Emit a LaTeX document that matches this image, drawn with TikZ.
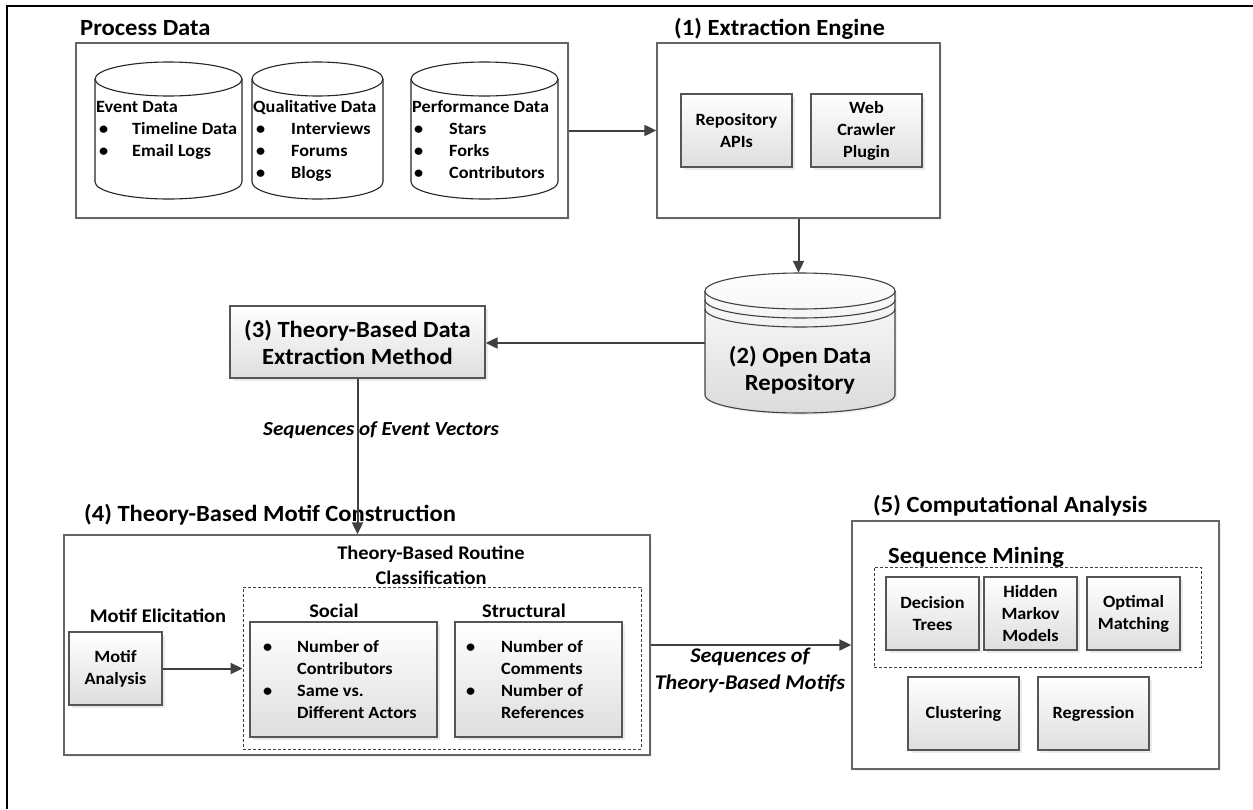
\documentclass[tikz,border=0pt]{standalone}
\usepackage{fontspec}
\setmainfont{Carlito}[FakeStretch=1.06]
\usetikzlibrary{arrows.meta,shadows}
\definecolor{linec}{HTML}{404040}
\definecolor{boxc}{HTML}{666666}
\definecolor{innerc}{HTML}{555555}
\newcommand\fbig{\fontsize{23.2}{27}\selectfont\bfseries}
\newcommand\fmid{\fontsize{19.3}{25}\selectfont\bfseries}
\newcommand\fsm{\fontsize{17.2}{22}\selectfont\bfseries}
\newcommand\fit{\fontsize{19.9}{27}\selectfont\bfseries\itshape}
\newcommand\bul[1]{\makebox[#1][l]{\textbullet}}
\begin{document}
\begin{tikzpicture}[x=1pt,y=1pt,
  container/.style={draw=boxc, line width=1.3pt, fill=white, inner sep=0,
    drop shadow={shadow xshift=2pt,shadow yshift=-2pt,fill=black!10}},
  inbox/.style={draw=innerc, line width=1.3pt, top color=white, bottom color=black!13,
    inner sep=0, align=center, font=\fsm,
    drop shadow={shadow xshift=3pt,shadow yshift=-3pt,fill=black!15}},
  dbox/.style={draw=linec, dash pattern=on 3pt off 2pt, line width=0.9pt, inner sep=0},
  conn/.style={draw=linec, line width=2pt, -{Triangle[length=12pt,width=11pt]}},
  lbl/.style={inner sep=0, anchor=base west},
  clbl/.style={inner sep=0, anchor=base},
  cylst/.style={draw=black!85, line width=1.1pt, fill=white},
  ghost/.style={inner sep=0, draw=none}
]
\useasboundingbox (0,0) rectangle (1253,-809);
\draw[line width=2.2pt] (7,-809) -- (7,-6) -- (1253,-6);

% ---------- Process Data ----------
\node[lbl, font=\fbig] (tpd) at (80,-35) {Process Data};
\node[container, minimum width=492pt, minimum height=175pt] (pd) at (322,-130.5) {};
% cylinders
\draw[cylst] (95,-79) -- (95,-182) arc[start angle=180,end angle=360,x radius=73.5,y radius=17] -- (242,-79) arc[start angle=0,end angle=180,x radius=73.5,y radius=17] -- cycle;
\draw[cylst] (95,-79) arc[start angle=180,end angle=360,x radius=73.5,y radius=17];
\draw[cylst] (252,-79) -- (252,-182) arc[start angle=180,end angle=360,x radius=65.5,y radius=17] -- (383,-79) arc[start angle=0,end angle=180,x radius=65.5,y radius=17] -- cycle;
\draw[cylst] (252,-79) arc[start angle=180,end angle=360,x radius=65.5,y radius=17];
\draw[cylst] (411,-79) -- (411,-182) arc[start angle=180,end angle=360,x radius=73.5,y radius=17] -- (558,-79) arc[start angle=0,end angle=180,x radius=73.5,y radius=17] -- cycle;
\draw[cylst] (411,-79) arc[start angle=180,end angle=360,x radius=73.5,y radius=17];
% texts
\node[lbl, font=\fsm] (e0) at (96,-112) {Event Data};
\node[lbl, font=\fsm] (e1) at (99,-134) {\bul{33pt}Timeline Data};
\node[lbl, font=\fsm] (e2) at (99,-156) {\bul{33pt}Email Logs};
\node[lbl, font=\fsm] (q0) at (253,-112) {Qualitative Data};
\node[lbl, font=\fsm] (q1) at (256,-134) {\bul{35pt}Interviews};
\node[lbl, font=\fsm] (q2) at (256,-156) {\bul{35pt}Forums};
\node[lbl, font=\fsm] (q3) at (256,-178) {\bul{35pt}Blogs};
\node[lbl, font=\fsm] (f0) at (412,-112) {Performance Data};
\node[lbl, font=\fsm] (f1) at (414,-134) {\bul{35pt}Stars};
\node[lbl, font=\fsm] (f2) at (414,-156) {\bul{35pt}Forks};
\node[lbl, font=\fsm] (f3) at (414,-178) {\bul{35pt}Contributors};

% ---------- (1) Extraction Engine ----------
\node[lbl, font=\fbig] (tee) at (674,-35) {(1) Extraction Engine};
\node[container, minimum width=283pt, minimum height=175pt] (ee) at (798.5,-130.5) {};
\node[inbox, minimum width=111pt, minimum height=73pt] (repo) at (736.5,-130.5) {Repository\\APIs};
\node[inbox, minimum width=111pt, minimum height=73pt] (web) at (866.5,-130.5) {Web\\Crawler\\Plugin};

% ---------- (2) Open Data Repository ----------
\node[ghost, minimum width=190pt, minimum height=140pt] (odr) at (800,-343) {};
\draw[draw=black!75, line width=1.1pt, top color=white, bottom color=black!14,
      drop shadow={shadow xshift=2pt,shadow yshift=-2pt,fill=black!12}]
  (705,-291) -- (705,-395) arc[start angle=180,end angle=360,x radius=95,y radius=18]
  -- (895,-291) arc[start angle=0,end angle=180,x radius=95,y radius=18] -- cycle;
\draw[draw=black!75, line width=1.1pt] (705,-291) arc[start angle=180,end angle=360,x radius=95,y radius=18];
\draw[draw=black!75, line width=1.1pt] (705,-300) arc[start angle=180,end angle=360,x radius=95,y radius=18];
\draw[draw=black!75, line width=1.1pt] (705,-309) arc[start angle=180,end angle=360,x radius=95,y radius=18];
\node[inner sep=0, align=center, font=\fontsize{23.2}{26.5}\selectfont\bfseries] (odrt) at (800,-370) {(2) Open Data\\Repository};

% ---------- (3) ----------
\node[inbox, font=\fontsize{23.2}{27}\selectfont\bfseries, minimum width=255pt, minimum height=72pt] (p3) at (357.5,-342) {(3) Theory-Based Data\\Extraction Method};
\node[lbl, font=\fit] (sev) at (263,-435) {Sequences of Event Vectors};

% ---------- (4) ----------
\node[lbl, font=\fbig] (tp4) at (84,-521) {(4) Theory-Based Motif Construction};
\node[container, minimum width=586pt, minimum height=220pt] (p4) at (357,-645) {};
\node[inner sep=0, align=center, font=\fmid] (trc) at (431,-565) {Theory-Based Routine\\Classification};
\node[dbox, minimum width=398pt, minimum height=162pt] (d4) at (442,-668) {};
\node[clbl, font=\fmid] (tme) at (158,-622) {Motif Elicitation};
\node[inbox, minimum width=93pt, minimum height=73pt] (ma) at (115.5,-668.5) {Motif\\Analysis};
\node[clbl, font=\fmid] (tso) at (334,-617) {Social};
\node[clbl, font=\fmid] (tst) at (524,-617) {Structural};
\node[inbox, minimum width=187pt, minimum height=115pt] (soc) at (343.5,-679.5) {};
\node[inbox, minimum width=167pt, minimum height=115pt] (str) at (538.5,-679.5) {};
\node[lbl, font=\fsm] (s1) at (263,-652) {\bul{34pt}Number of};
\node[lbl, font=\fsm] (s2) at (297,-674) {Contributors};
\node[lbl, font=\fsm] (s3) at (263,-696) {\bul{34pt}Same vs.};
\node[lbl, font=\fsm] (s4) at (297,-718) {Different Actors};
\node[lbl, font=\fsm] (r1) at (466,-652) {\bul{35pt}Number of};
\node[lbl, font=\fsm] (r2) at (501,-674) {Comments};
\node[lbl, font=\fsm] (r3) at (466,-696) {\bul{35pt}Number of};
\node[lbl, font=\fsm] (r4) at (501,-718) {References};

% ---------- (5) ----------
\node[lbl, font=\fbig] (tp5) at (873,-512) {(5) Computational Analysis};
\node[container, minimum width=367pt, minimum height=248pt] (p5) at (1035.5,-645) {};
\node[lbl, font=\fbig] (tsm) at (888,-563) {Sequence Mining};
\node[dbox, minimum width=327pt, minimum height=100pt] (d5) at (1037.5,-617) {};
\node[inbox, minimum width=93pt, minimum height=73pt] (dt) at (932.5,-613.5) {Decision\\Trees};
\node[inbox, minimum width=93pt, minimum height=73pt] (hmm) at (1030.5,-613.5) {Hidden\\Markov\\Models};
\node[inbox, minimum width=93pt, minimum height=73pt] (om) at (1133.5,-613.5) {Optimal\\Matching};
\node[inbox, minimum width=111pt, minimum height=73pt] (cl) at (963.5,-713.5) {Clustering};
\node[inbox, minimum width=111pt, minimum height=73pt] (rg) at (1093.5,-713.5) {Regression};
\node[inner sep=0, align=center, font=\fontsize{20.9}{27}\selectfont\bfseries\itshape] (stm) at (750,-670) {Sequences of\\Theory-Based Motifs};

% ---------- connectors ----------
\draw[conn] (pd.east) -- (ee.west);
\draw[conn] (ee.south) -- (ee.south |- odr.north);
\draw[conn] (odr.west) -- (odr.west -| p3.east);
\draw[conn] (p3.south) -- (p3.south |- p4.north);
\draw[conn] (ma.east) -- (ma.east -| d4.west);
\draw[conn] (p4.east) -- (p5.west);
\end{tikzpicture}
\end{document}
